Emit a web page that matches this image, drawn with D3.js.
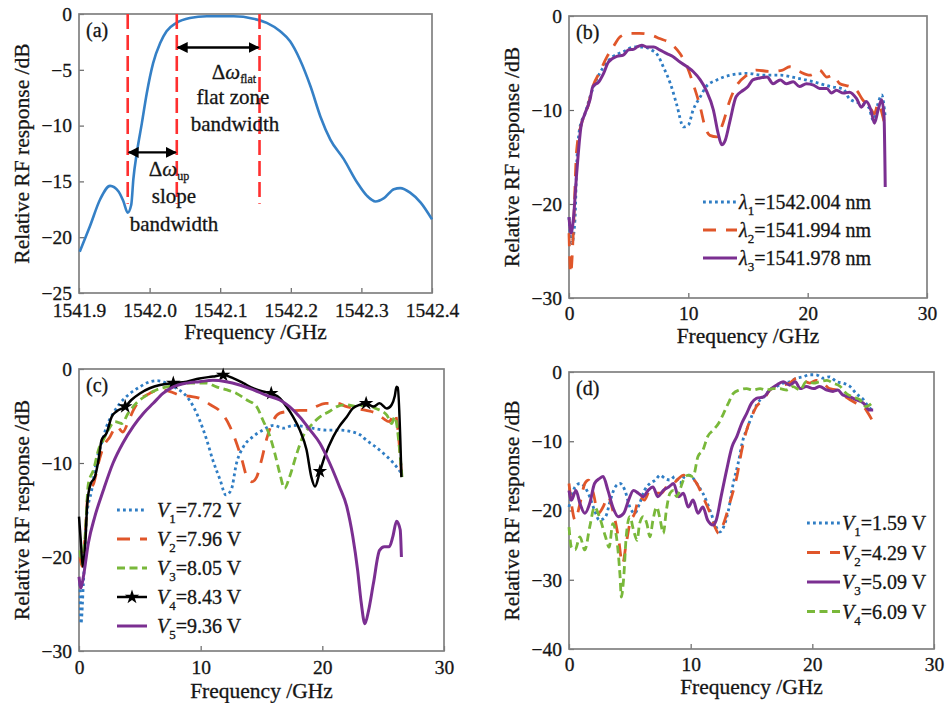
<!DOCTYPE html>
<html><head><meta charset="utf-8">
<script src="https://cdn.jsdelivr.net/npm/d3@7"></script>
<style>
body{margin:0;background:#fff}
svg text{font-family:"Liberation Serif","Times New Roman",serif;fill:#151515;stroke:#151515;stroke-width:0.3px}
</style></head><body>
<svg id="chart" width="946" height="703"></svg>
<script>
// ---------- DATA ----------
// Panel (a)
const curveA = [[1541.901,-21.3],[1541.9156,-19.0],[1541.930,-16.6],[1541.944,-15.4],[1541.956,-15.9],[1541.963,-16.8],[1541.969,-17.8],[1541.974,-17.1],[1541.977,-14.8],[1541.982,-12.4],[1541.989,-9.8],[1541.996,-7.1],[1542.005,-4.4],[1542.015,-2.6],[1542.024,-1.55],[1542.038,-0.8],[1542.057,-0.36],[1542.081,-0.2],[1542.119,-0.2],[1542.147,-0.42],[1542.166,-0.8],[1542.185,-1.55],[1542.199,-2.45],[1542.213,-4.1],[1542.228,-6.5],[1542.242,-9.2],[1542.256,-11.25],[1542.275,-13.0],[1542.294,-15.1],[1542.308,-16.3],[1542.320,-16.8],[1542.332,-16.5],[1542.346,-15.7],[1542.355,-15.6],[1542.369,-16.0],[1542.384,-16.9],[1542.4,-18.4]];
const aMarkerLines = [1541.969, 1542.0385, 1542.1557];
const aMarkerBottom = -17;
const aArrows = [[1541.969,1542.0385,-12.4],[1542.0385,1542.1557,-3.0]];
const aLabels = [
  {f:1542.1195, v:-5.8, parts:[["Δ",""],["ω","i"],["flat","s"]]},
  {f:1542.118, v:-8.06, parts:[["flat zone",""]]},
  {f:1542.121, v:-10.5, parts:[["bandwidth",""]]},
  {f:1542.0275, v:-14.5, parts:[["Δ",""],["ω","i"],["up","s"]]},
  {f:1542.0345, v:-16.95, parts:[["slope",""]]},
  {f:1542.0345, v:-19.45, parts:[["bandwidth",""]]}
];
const aXTicks = [1541.9,1542.0,1542.1,1542.2,1542.3,1542.4];
const aYTicks = [0,-5,-10,-15,-20,-25];

// Panel (b)
const bLambda1 = [[0,-21.4],[0.22,-24.2],[0.5,-21.7],[0.64,-16],[0.92,-11.8],[1.34,-10.4],[1.76,-8.6],[2.3,-6.8],[2.9,-5.4],[3.7,-4.3],[4.55,-3.8],[5.4,-3.3],[6.2,-3.3],[6.9,-3.6],[7.5,-4.3],[7.9,-5.4],[8.5,-7.2],[9.0,-9.3],[9.6,-11.8],[10.0,-11.6],[10.4,-10.0],[11.0,-8.6],[11.5,-7.5],[12.4,-6.8],[13.5,-6.3],[14.9,-6.1],[16.3,-6.3],[17.7,-6.3],[19.1,-6.6],[20.5,-7.0],[21.9,-7.5],[23.0,-7.8],[23.5,-8.8],[24.4,-9.3],[25.1,-9.7],[25.5,-11.1],[25.9,-9.3],[26.2,-8.4],[26.5,-10.7]];
const bLambda2 = [[0,-23.1],[0.14,-27.4],[0.36,-23.1],[0.64,-14.3],[1.06,-11.4],[1.5,-10.0],[2.0,-7.5],[2.6,-5.9],[3.2,-4.3],[3.7,-3.3],[4.3,-2.2],[5.1,-1.85],[5.9,-1.85],[6.8,-2.0],[7.6,-2.4],[8.5,-2.9],[9.3,-4.0],[9.9,-5.4],[10.4,-7.2],[11.0,-9.7],[11.4,-11.8],[11.8,-12.7],[12.4,-12.85],[12.9,-11.4],[13.5,-8.9],[14.0,-7.5],[14.9,-6.3],[15.7,-5.75],[16.8,-5.9],[17.9,-5.75],[18.5,-5.4],[19.3,-5.9],[20.2,-6.3],[21.0,-5.75],[21.6,-6.5],[22.1,-6.3],[22.7,-7.2],[23.5,-7.5],[24.1,-7.9],[24.6,-8.9],[25.2,-9.7],[25.6,-10.4],[25.9,-9.3],[26.3,-10.7],[26.5,-11.8]];
const bLambda3 = [[0,-21.4],[0.17,-23.1],[0.36,-21.7],[0.64,-16.8],[1.0,-11.8],[1.3,-10.5],[1.76,-8.9],[2.0,-7.5],[2.5,-7.0],[2.9,-6.1],[3.3,-4.9],[4.0,-4.3],[4.55,-4.15],[5.0,-3.6],[5.4,-3.55],[5.7,-3.3],[6.1,-3.1],[6.5,-3.3],[7.1,-3.3],[7.6,-3.6],[8.2,-4.0],[8.7,-4.3],[9.3,-4.9],[9.9,-5.4],[10.4,-5.9],[11.0,-6.8],[11.5,-7.9],[12.1,-10.0],[12.5,-12.5],[12.8,-13.7],[13.1,-13.2],[13.5,-11.1],[14.0,-8.6],[14.6,-7.9],[15.0,-7.5],[15.4,-6.8],[16.0,-6.6],[16.6,-6.5],[17.1,-7.2],[17.7,-6.8],[18.2,-7.2],[18.8,-7.0],[19.3,-7.5],[19.9,-7.2],[20.5,-7.35],[21.0,-7.7],[21.6,-7.7],[22.0,-8.2],[22.4,-7.9],[23.0,-8.2],[23.5,-8.1],[24.1,-8.8],[24.5,-9.7],[24.9,-9.1],[25.3,-10.0],[25.6,-11.4],[25.9,-10.0],[26.2,-8.9],[26.4,-10.7],[26.5,-18.2]];
const bNames = ["1542.004 nm","1541.994 nm","1541.978 nm"];

// Panel (c)
const cV1 = [[0.08,-22.8],[0.16,-27.1],[0.36,-22.8],[0.63,-15.7],[1.04,-12.9],[1.45,-9.7],[1.86,-7.9],[2.27,-6.1],[2.82,-4.7],[3.37,-3.65],[4.2,-2.6],[5.0,-1.9],[5.83,-1.35],[6.4,-1.24],[7.2,-1.5],[8.0,-2.05],[8.84,-2.9],[9.4,-4.0],[9.9,-5.4],[10.5,-7.55],[11.0,-9.7],[11.6,-11.8],[12.07,-13.4],[12.5,-12.9],[12.95,-10.0],[13.5,-8.3],[14.3,-7.2],[15.1,-6.5],[16.0,-6.0],[16.8,-6.3],[17.6,-6.0],[18.4,-6.1],[19.2,-6.3],[20.3,-6.5],[21.4,-6.5],[22.5,-6.7],[23.1,-7.0],[23.6,-7.55],[24.4,-8.3],[25.3,-9.3],[26.1,-10.4],[26.5,-11.1]];
const cV2 = [[0.08,-20],[0.25,-21],[0.5,-17.8],[0.77,-12.9],[1.2,-12.2],[1.6,-10.0],[2.0,-8.3],[2.55,-7.2],[3.1,-6.1],[3.6,-6.7],[4.05,-5.6],[4.46,-4.4],[5.0,-3.3],[5.8,-2.6],[6.65,-2.2],[7.5,-2.4],[8.3,-2.8],[9.1,-2.9],[9.9,-3.1],[10.8,-3.8],[11.6,-4.5],[12.4,-6.1],[12.95,-7.9],[13.4,-9.7],[13.8,-11.5],[14.2,-12.0],[14.6,-11.5],[15.0,-9.7],[15.4,-7.55],[16.0,-5.4],[16.5,-4.7],[17.3,-4.5],[18.15,-4.4],[19.0,-4.4],[19.5,-4.0],[20.3,-3.65],[21.2,-3.65],[22.0,-4.0],[22.8,-4.2],[23.6,-4.4],[24.4,-4.7],[25.0,-5.25],[25.5,-5.6],[25.95,-4.7],[26.4,-9.3],[26.55,-12.2]];
const cV3 = [[0.08,-19.3],[0.25,-20.7],[0.5,-17.8],[0.77,-12.2],[1.2,-10.7],[1.6,-8.6],[2.0,-7.55],[2.4,-6.5],[2.96,-5.6],[3.5,-5.8],[4.05,-4.7],[4.7,-3.65],[5.56,-2.8],[6.4,-2.2],[7.2,-1.9],[8.0,-1.7],[8.84,-1.5],[9.66,-1.5],[10.5,-1.5],[11.3,-1.9],[12.1,-2.2],[12.95,-2.6],[13.8,-3.3],[14.6,-4.0],[15.1,-5.4],[15.7,-7.2],[16.1,-9.0],[16.5,-11.1],[16.9,-12.7],[17.3,-11.5],[17.9,-9.0],[18.4,-7.2],[19.0,-6.1],[19.8,-5.1],[20.6,-4.5],[21.2,-4.0],[22.0,-3.8],[22.8,-4.0],[23.6,-3.8],[24.4,-4.2],[25.3,-4.9],[25.7,-5.8],[25.95,-5.1],[26.4,-9.3],[26.55,-11.5]];
const cV4 = [[0,-15.7],[0.16,-18.5],[0.3,-21.0],[0.52,-18.5],[0.68,-14.3],[0.96,-12.2],[1.3,-11.5],[1.6,-9.7],[1.86,-7.55],[2.27,-6.8],[2.68,-5.1],[3.1,-4.5],[3.8,-4.0],[4.3,-3.3],[5.0,-2.6],[5.8,-2.05],[6.65,-1.7],[7.75,-1.5],[8.84,-1.35],[9.9,-1.0],[11.0,-0.8],[11.85,-0.64],[12.7,-1.0],[13.5,-1.5],[14.3,-2.05],[15.1,-2.4],[15.8,-2.6],[16.5,-3.1],[17.05,-4.0],[17.6,-5.1],[18.15,-6.5],[18.7,-8.6],[19.1,-11.5],[19.4,-12.5],[19.8,-10.9],[20.2,-9.3],[20.9,-7.2],[21.4,-6.1],[22.0,-5.1],[22.5,-4.2],[23.1,-3.8],[23.6,-3.65],[24.2,-4.0],[24.7,-3.65],[25.3,-4.2],[25.7,-3.8],[25.95,-2.9],[26.1,-1.9],[26.2,-2.0],[26.5,-11.5]];
const cV4Stars = [3.8,7.75,11.85,15.8,19.8,23.6];
const cV5 = [[0,-22.1],[0.16,-23.3],[0.36,-22.1],[0.77,-18.5],[1.3,-15.7],[2.0,-12.9],[2.8,-10.0],[3.6,-7.9],[4.46,-6.1],[5.3,-4.7],[6.1,-3.65],[6.9,-2.6],[7.75,-1.9],[8.84,-1.5],[9.9,-1.35],[11.0,-1.2],[12.1,-1.35],[13.2,-1.7],[14.3,-2.2],[15.4,-2.8],[16.5,-3.3],[17.3,-4.0],[18.15,-5.1],[19.0,-6.5],[19.8,-7.9],[20.6,-10.0],[21.4,-12.5],[22.0,-14.6],[22.5,-17.8],[22.9,-21.4],[23.2,-24.9],[23.5,-27.1],[23.8,-25.7],[24.2,-22.8],[24.7,-19.3],[25.1,-18.9],[25.5,-18.9],[25.8,-17.8],[26.1,-16.2],[26.4,-17.1],[26.5,-20.0]];
const cNames = ["7.72 V","7.96 V","8.05 V","8.43 V","9.36 V"];

// Panel (d)
const dV1 = [[0,-19.5],[0.2,-18.0],[0.5,-16.6],[0.9,-16.1],[1.3,-16.6],[1.7,-18.0],[2.1,-20.0],[2.5,-21.4],[3.0,-20.9],[3.4,-18.5],[3.8,-16.6],[4.2,-16.1],[4.6,-17.1],[5.0,-19.5],[5.4,-20.4],[5.8,-19.0],[6.2,-17.1],[6.65,-16.1],[7.1,-15.6],[7.5,-14.9],[7.9,-15.4],[8.3,-15.6],[8.7,-15.1],[9.1,-16.1],[9.5,-15.1],[9.9,-14.9],[10.5,-16.1],[11.0,-17.5],[11.6,-20.0],[12.1,-22.4],[12.4,-23.1],[12.7,-22.4],[13.1,-20.0],[13.5,-16.1],[13.9,-13.2],[14.3,-9.8],[14.7,-7.9],[15.1,-6.0],[15.5,-4.5],[16.0,-3.6],[16.5,-2.6],[17.05,-2.1],[17.6,-1.6],[18.15,-1.4],[18.7,-0.9],[19.2,-0.7],[19.8,-0.4],[20.3,-0.4],[20.9,-0.9],[21.4,-0.7],[22.0,-1.4],[22.5,-1.6],[23.1,-2.1],[23.6,-3.1],[24.2,-4.0],[24.6,-5.0],[24.9,-5.5]];
const dV2 = [[0,-16.1],[0.2,-19.0],[0.5,-21.4],[0.9,-19.0],[1.3,-16.1],[1.6,-15.6],[2.0,-17.5],[2.4,-20.4],[2.8,-19.5],[3.2,-18.0],[3.6,-20.0],[4.05,-23.8],[4.4,-27.7],[4.7,-24.8],[5.0,-21.9],[5.4,-20.4],[5.8,-18.0],[6.2,-18.5],[6.65,-17.1],[7.2,-17.5],[7.6,-17.5],[8.0,-16.6],[8.6,-16.1],[9.0,-15.4],[9.4,-14.9],[9.9,-15.1],[10.5,-16.1],[11.0,-18.0],[11.6,-20.4],[12.0,-22.4],[12.3,-23.3],[12.7,-21.9],[13.2,-19.0],[13.8,-15.1],[14.2,-11.3],[14.6,-8.4],[15.0,-6.5],[15.4,-5.0],[16.0,-4.0],[16.5,-2.6],[17.05,-2.1],[17.6,-1.9],[18.15,-1.6],[18.7,-0.9],[19.2,-1.2],[19.8,-1.6],[20.3,-1.2],[20.9,-1.6],[21.4,-2.4],[22.0,-2.6],[22.5,-3.3],[23.1,-4.0],[23.6,-4.5],[24.2,-5.0],[24.6,-6.0],[24.9,-6.9]];
const dV3 = [[0,-17.1],[0.2,-18.5],[0.57,-17.1],[0.9,-19.0],[1.3,-20.4],[1.7,-19.0],[2.1,-16.1],[2.5,-15.4],[2.8,-15.1],[3.2,-17.1],[3.6,-19.5],[4.05,-20.9],[4.5,-20.4],[4.9,-18.5],[5.3,-17.1],[5.7,-17.5],[6.1,-18.0],[6.5,-17.1],[6.9,-16.6],[7.3,-18.0],[7.75,-17.1],[8.2,-16.6],[8.6,-16.1],[9.0,-18.0],[9.4,-17.5],[9.8,-19.5],[10.2,-18.5],[10.6,-20.4],[11.0,-19.5],[11.4,-21.4],[11.85,-22.1],[12.1,-21.4],[12.5,-18.0],[12.95,-14.2],[13.4,-10.8],[13.8,-9.3],[14.2,-7.4],[14.6,-6.0],[15.0,-4.5],[15.4,-3.8],[16.0,-3.6],[16.5,-2.6],[17.05,-1.9],[17.6,-1.4],[18.15,-1.9],[18.6,-1.4],[19.0,-2.4],[19.5,-2.1],[20.1,-2.4],[20.6,-2.1],[21.2,-2.6],[21.7,-2.8],[22.1,-2.6],[22.5,-3.3],[23.1,-3.6],[23.6,-4.0],[24.2,-4.5],[24.7,-5.5],[25.0,-5.5]];
const dV4 = [[0,-22.4],[0.2,-25.3],[0.5,-25.7],[0.9,-23.8],[1.3,-25.7],[1.7,-22.4],[2.1,-19.5],[2.5,-20.9],[3.0,-23.8],[3.3,-25.3],[3.6,-21.9],[3.9,-23.8],[4.2,-29.6],[4.3,-32.5],[4.5,-29.6],[4.7,-23.8],[5.0,-20.9],[5.3,-22.8],[5.6,-24.3],[5.8,-21.9],[6.1,-20.9],[6.4,-21.9],[6.65,-23.8],[6.9,-21.4],[7.2,-19.5],[7.5,-21.4],[7.75,-23.3],[8.0,-20.0],[8.3,-17.5],[8.6,-17.1],[8.84,-18.0],[9.1,-17.1],[9.4,-15.6],[9.8,-14.9],[10.2,-15.1],[10.6,-12.2],[11.0,-11.3],[11.4,-9.3],[11.85,-8.4],[12.3,-7.4],[12.7,-6.0],[13.1,-4.5],[13.5,-3.1],[14.0,-2.6],[14.6,-2.4],[15.1,-2.6],[15.7,-2.4],[16.2,-2.6],[16.8,-2.4],[17.3,-2.4],[17.9,-2.6],[18.4,-2.1],[19.0,-2.6],[19.5,-1.4],[20.1,-1.6],[20.6,-1.4],[21.2,-1.2],[21.7,-1.6],[22.3,-2.1],[22.8,-3.1],[23.35,-3.6],[23.9,-4.0],[24.4,-5.0],[24.9,-4.5]];
const dNames = ["1.59 V","4.29 V","5.09 V","6.09 V"];

const freqTicks = [0,10,20,30];
const bcYTicks = [0,-10,-20,-30];
const dYTicks = [0,-10,-20,-30,-40];

// ---------- STYLES ----------
const C = {blue:"#2f7dc4", orange:"#e0562a", green:"#79b83a", purple:"#7b2f91", black:"#000", red:"#ff2f2f"};
const ST = {
  dot:{stroke:C.blue, width:2.8, dash:"2.8,3.2"},
  dash:{stroke:C.orange, width:2.8, dash:"13,10"},
  short:{stroke:C.green, width:2.8, dash:"8,4.5"},
  solidP:{stroke:C.purple, width:3, dash:null},
  solidK:{stroke:C.black, width:2.5, dash:null}
};
const FS = {tick:19.5, title:21.5, legend:20, note:21, letter:20, sub:13};

const svg = d3.select("#chart");
const minus = v => v < 0 ? "\u2212" + Math.abs(v) : String(v);

function panel(cfg){
  const g = svg.append("g");
  const B = cfg.box;
  const x = d3.scaleLinear().domain(cfg.xDomain).range([B.l, B.r]);
  const y = d3.scaleLinear().domain(cfg.yDomain).range([B.b, B.t]);
  const xa = d3.axisBottom(x).tickValues(cfg.xTicks).tickSizeInner(-5).tickSizeOuter(0).tickPadding(cfg.xPad).tickFormat(cfg.xFmt || minus);
  const ya = d3.axisLeft(y).tickValues(cfg.yTicks).tickSizeInner(-5).tickSizeOuter(0).tickPadding(7).tickFormat(minus);
  const gx = g.append("g").attr("transform",`translate(0,${B.b})`).call(xa);
  const gy = g.append("g").attr("transform",`translate(${B.l},0)`).call(ya);
  [gx,gy].forEach(a=>{
    a.attr("font-family",null);
    a.select(".domain").remove();
    a.selectAll(".tick line").attr("stroke","#666").attr("stroke-width",1.2);
    a.selectAll(".tick text").attr("font-size",FS.tick).attr("fill","#151515")
      .style("font-family",'"Liberation Serif",serif');
  });
  g.append("rect").attr("x",B.l).attr("y",B.t).attr("width",B.r-B.l).attr("height",B.b-B.t)
    .attr("fill","none").attr("stroke","#808080").attr("stroke-width",1.7);
  g.append("text").attr("transform",`translate(${cfg.yTitleX},${(B.t+B.b)/2}) rotate(-90)`)
    .attr("text-anchor","middle").attr("dy","0.35em").attr("font-size",FS.title).text("Relative RF response /dB");
  g.append("text").attr("x",(B.l+B.r)/2).attr("y",cfg.xTitleY).attr("dy","0.35em")
    .attr("text-anchor","middle").attr("font-size",FS.title).text("Frequency /GHz");
  g.append("text").attr("x",B.l+7).attr("y",B.t+23).attr("font-size",FS.letter).text(cfg.letter);
  const line = d3.line().x(d=>x(d[0])).y(d=>y(d[1])).curve(d3.curveMonotoneX);
  cfg.series.forEach(s=>{
    g.append("path").datum(s.data).attr("d",line).attr("fill","none")
      .attr("stroke",s.st.stroke).attr("stroke-width",s.st.width)
      .attr("stroke-dasharray",s.st.dash).attr("stroke-linejoin","round");
    if(s.stars){
      g.selectAll(null).data(s.data.filter(d=>s.stars.includes(d[0]))).join("path")
        .attr("d",d3.symbol(d3.symbolStar,65)).attr("transform",d=>`translate(${x(d[0])},${y(d[1])})`)
        .attr("fill","#000");
    }
  });
  return {g,x,y};
}

function legend(g, L, items){
  items.forEach((it,i)=>{
    const yy = L.y + i*L.dy;
    g.append("line").attr("x1",L.x).attr("x2",L.x+L.len).attr("y1",yy).attr("y2",yy)
      .attr("stroke",it.st.stroke).attr("stroke-width",it.st.width).attr("stroke-dasharray",it.st.dash);
    if(it.star) g.append("path").attr("d",d3.symbol(d3.symbolStar,65)).attr("transform",`translate(${L.x+L.len/2},${yy})`).attr("fill","#000");
    const t = g.append("text").attr("x",L.x+L.len+L.gap).attr("y",yy).attr("dy","0.35em").attr("font-size",FS.legend);
    t.append("tspan").attr("font-style","italic").text(it.sym);
    t.append("tspan").attr("font-size",FS.sub).attr("dy",6).text(it.sub);
    t.append("tspan").attr("dy",-6).text("=" + it.val);
  });
}

// ----- Panel (a)
const pa = panel({box:{l:79,t:14,r:432,b:293}, xDomain:[1541.9,1542.4], yDomain:[-25,0],
  xTicks:aXTicks, yTicks:aYTicks, xFmt:d3.format(".1f"), xPad:10, yTitleX:21, xTitleY:331, letter:"(a)",
  series:[{data:curveA, st:{stroke:"#3580c6",width:2.6,dash:null}}]});
aMarkerLines.forEach(f=>{
  pa.g.append("line").attr("x1",pa.x(f)).attr("x2",pa.x(f)).attr("y1",pa.y(0)).attr("y2",pa.y(aMarkerBottom))
    .attr("stroke",C.red).attr("stroke-width",2.6).attr("stroke-dasharray","15,6");
});
const defs = svg.append("defs");
defs.append("marker").attr("id","ah").attr("viewBox","0 0 10 10").attr("refX",9).attr("refY",5)
  .attr("markerWidth",11).attr("markerHeight",11).attr("markerUnits","userSpaceOnUse").attr("orient","auto-start-reverse")
  .append("path").attr("d","M0,0 L10,5 L0,10 z").attr("fill","#000");
aArrows.forEach(a=>{
  pa.g.append("line").attr("x1",pa.x(a[0])+1).attr("x2",pa.x(a[1])-1).attr("y1",pa.y(a[2])).attr("y2",pa.y(a[2]))
    .attr("stroke","#000").attr("stroke-width",2.4).attr("marker-start","url(#ah)").attr("marker-end","url(#ah)");
});
aLabels.forEach(l=>{
  const t = pa.g.append("text").attr("x",pa.x(l.f)).attr("y",pa.y(l.v)).attr("text-anchor","middle").attr("font-size",FS.note);
  l.parts.forEach(p=>{
    const ts = t.append("tspan").text(p[0]);
    if(p[1]==="i") ts.attr("font-style","italic");
    if(p[1]==="s"){ ts.attr("font-size",12).attr("dy",4); }
  });
});

// ----- Panel (b)
const pb = panel({box:{l:569,t:16,r:927,b:298}, xDomain:[0,30], yDomain:[-30,0],
  xTicks:freqTicks, yTicks:bcYTicks, xPad:8, yTitleX:511, xTitleY:335, letter:"(b)",
  series:[{data:bLambda1,st:ST.dot},{data:bLambda2,st:ST.dash},{data:bLambda3,st:ST.solidP}]});
legend(pb.g,{x:703,y:202,dy:28,len:34,gap:2},[
  {st:ST.dot,sym:"λ",sub:"1",val:bNames[0]},{st:ST.dash,sym:"λ",sub:"2",val:bNames[1]},{st:ST.solidP,sym:"λ",sub:"3",val:bNames[2]}]);

// ----- Panel (c)
const pc = panel({box:{l:79,t:369,r:444,b:651}, xDomain:[0,30], yDomain:[-30,0],
  xTicks:freqTicks, yTicks:bcYTicks, xPad:9, yTitleX:21, xTitleY:690, letter:"(c)",
  series:[{data:cV1,st:ST.dot},{data:cV2,st:ST.dash},{data:cV3,st:ST.short},{data:cV4,st:ST.solidK,stars:cV4Stars},{data:cV5,st:ST.solidP}]});
legend(pc.g,{x:117,y:510,dy:29,len:30,gap:10},[
  {st:ST.dot,sym:"V",sub:"1",val:cNames[0]},{st:ST.dash,sym:"V",sub:"2",val:cNames[1]},{st:ST.short,sym:"V",sub:"3",val:cNames[2]},
  {st:ST.solidK,sym:"V",sub:"4",val:cNames[3],star:true},{st:ST.solidP,sym:"V",sub:"5",val:cNames[4]}]);

// ----- Panel (d)
const pd = panel({box:{l:569,t:372,r:934,b:649}, xDomain:[0,30], yDomain:[-40,0],
  xTicks:freqTicks, yTicks:dYTicks, xPad:8, yTitleX:511, xTitleY:686, letter:"(d)",
  series:[{data:dV1,st:ST.dot},{data:dV2,st:ST.dash},{data:dV3,st:ST.solidP},{data:dV4,st:ST.short}]});
legend(pd.g,{x:807,y:523,dy:29.5,len:33,gap:2},[
  {st:ST.dot,sym:"V",sub:"1",val:dNames[0]},{st:ST.dash,sym:"V",sub:"2",val:dNames[1]},
  {st:ST.solidP,sym:"V",sub:"3",val:dNames[2]},{st:ST.short,sym:"V",sub:"4",val:dNames[3]}]);
</script>
</body></html>
